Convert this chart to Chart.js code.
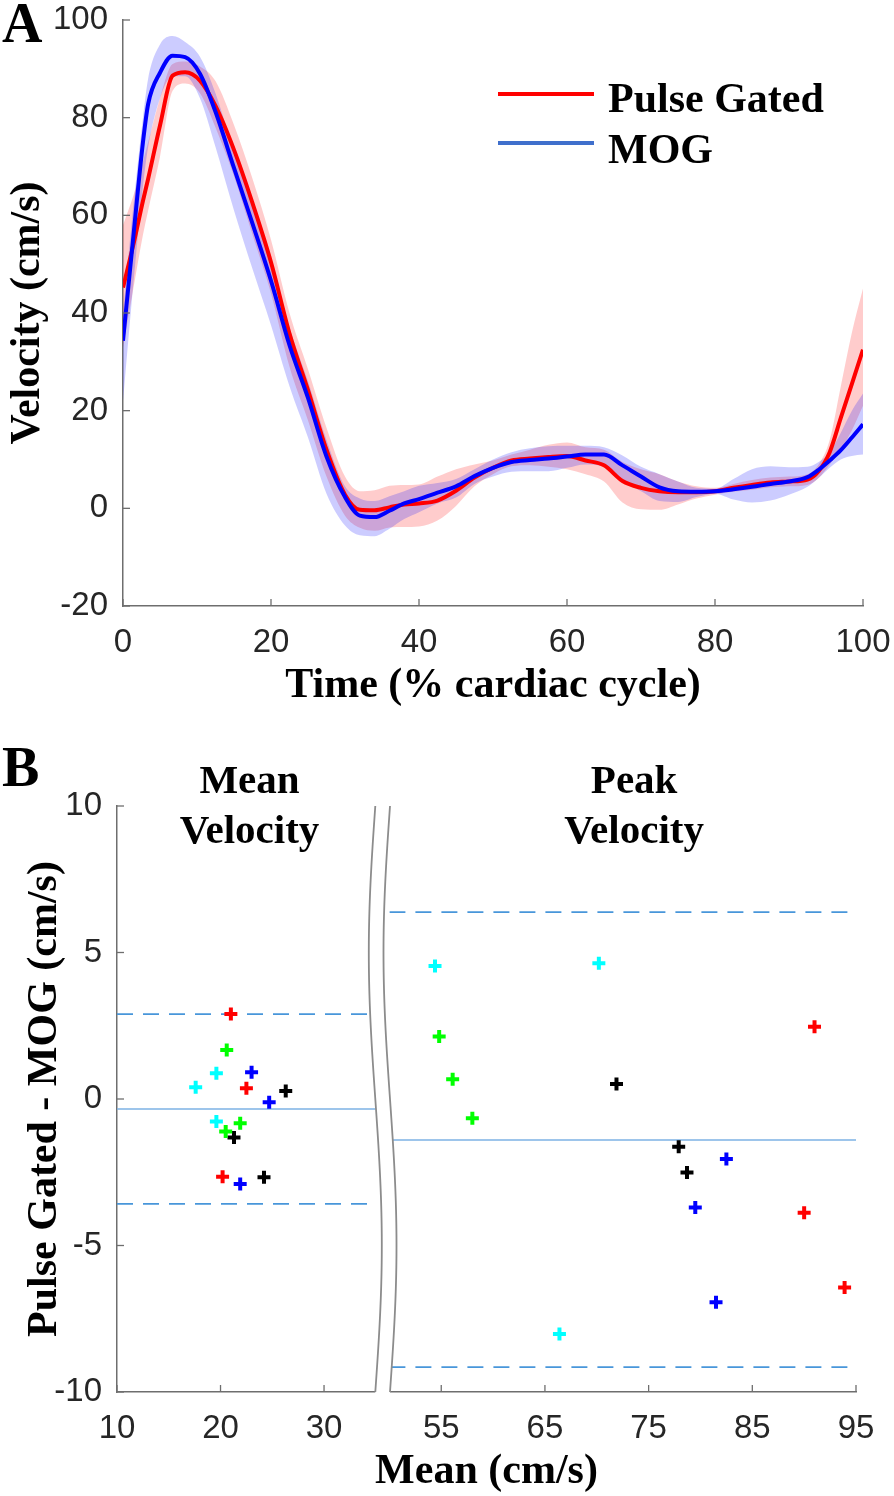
<!DOCTYPE html>
<html>
<head>
<meta charset="utf-8">
<title>Velocity waveforms and Bland-Altman comparison</title>
<script src="https://cdn.jsdelivr.net/npm/chart.js@4.4.1/dist/chart.umd.min.js"></script>
<style>
  html, body { margin:0; padding:0; background:#ffffff; }
  #page { position:relative; width:894px; height:1496px; overflow:hidden; background:#fff; }
  canvas { position:absolute; left:0; display:block; }
  #chartA { top:0; }
  #chartB { top:720px; }
</style>
</head>
<body>
<div id="page">
  <canvas id="chartA" width="894" height="720"></canvas>
  <canvas id="chartB" width="894" height="776"></canvas>
</div>
<script>
// ---------------- Panel A data ----------------
const timePct = [0, 1.4, 2.7, 3.4, 5, 6.7, 8.4, 10.4, 12.5, 15, 17.5, 20, 22.5, 25, 27.5, 30, 32, 34, 36, 38, 40, 42.5, 45, 47.5, 50, 52.5, 55, 57.5, 60, 62.5, 65, 67.5, 70, 72.5, 75, 77.5, 80, 82.5, 85, 87.5, 90, 92.5, 94, 95.5, 97, 98.5, 100];
const pulseGatedMean = [45.2, 54.0, 63.0, 67.5, 78.4, 88.6, 89.3, 87.6, 82.4, 73.4, 62.5, 50.4, 35.8, 24.2, 12.0, 2.8, -0.3, -0.4, 0.2, 0.8, 1.0, 1.6, 3.6, 6.3, 8.3, 9.8, 10.2, 10.5, 10.7, 9.8, 8.8, 5.6, 4.2, 3.5, 3.3, 3.3, 3.5, 4.2, 4.8, 5.3, 5.5, 5.9, 7.6, 11.5, 18.5, 25.5, 32.5];
const pulseGatedUpper = [58, 64, 71, 75, 84, 91, 91.5, 90.5, 87.5, 78.5, 67.5, 55, 40, 28.5, 16.5, 6.5, 3.5, 3.7, 4.6, 4.8, 4.9, 6.5, 8, 9, 9.8, 11, 12, 13, 13.5, 12.5, 12, 9.5, 8, 7, 5.5, 4.5, 4.2, 5, 5.8, 6.3, 6.5, 7, 9, 14, 25, 36, 45];
const pulseGatedLower = [33, 45, 56, 61, 72, 85.5, 87, 85, 78, 68, 56, 44, 29, 18, 6.5, -1.5, -4, -4.6, -3.9, -3.8, -3.7, -2.5, 0.5, 4.5, 7, 8.6, 8.8, 8.5, 8, 7, 5.5, 1.2, -0.2, -0.3, 0.8, 2.0, 2.8, 3.4, 3.8, 4.3, 4.5, 4.8, 6.2, 9, 12, 16, 21];
const mogMean = [34.3, 55.7, 75.0, 82.8, 89.2, 92.7, 92.4, 89.0, 81.2, 69.7, 58.3, 46.6, 33.4, 22.6, 10.6, 2.3, -1.5, -1.8, -0.5, 1.0, 1.9, 3.2, 4.5, 6.6, 8.3, 9.5, 9.9, 10.2, 10.6, 11.0, 11.0, 8.8, 6.5, 4.3, 3.5, 3.4, 3.5, 3.9, 4.4, 5.0, 5.5, 6.4, 7.9, 9.8, 11.9, 14.5, 17.2];
const mogUpper = [40, 62, 80, 88, 95, 96.7, 95.5, 92.5, 85, 73, 62, 50, 37, 26, 14, 4.5, 2, 1.5, 2.5, 3.5, 4.6, 5.2, 6, 8, 10, 11.5, 12.3, 12.7, 12.8, 12.8, 12.5, 10.8, 8.5, 7, 5.5, 4.2, 4, 6, 8, 8.6, 8.4, 8.5, 9.5, 11.5, 15.5, 20, 23.5];
const mogLower = [22, 46, 66, 74, 84, 88.5, 88.5, 84, 74, 61, 49, 37.5, 25, 14.5, 3, -3.5, -5.5, -5.7, -4.2, -2.2, -0.8, 1, 2.2, 5, 6.5, 7.5, 7.6, 7.6, 8.3, 9, 8.5, 5.7, 3.5, 1.5, 1.3, 2.3, 3, 1.8, 1.2, 1.6, 2.8, 4.4, 6.2, 8.3, 10, 10.7, 11];
const timeTicks = [0, 20, 40, 60, 80, 100];
const velocityTicks = [-20, 0, 20, 40, 60, 80, 100];
const seriesNames = ['Pulse Gated', 'MOG'];

// ---------------- Panel B data ----------------
const subjects = ['Subject 1', 'Subject 2', 'Subject 3', 'Subject 4', 'Subject 5'];
const meanVelAvg     = [21.0, 22.5, 20.2, 20.6, 21.9, 20.5, 19.6, 17.6, 19.6, 23.0, 24.7, 21.9, 26.3, 21.3, 24.2];
const meanVelDiff    = [2.90, 0.37, -2.65, 1.67, -0.83, -1.11, 0.88, 0.40, -0.77, 0.91, -0.11, -2.90, 0.27, -1.31, -2.67];
const meanVelSubject = [0, 0, 0, 1, 1, 1, 2, 2, 2, 3, 3, 3, 4, 4, 4];
const meanVelBias = -0.34;
const meanVelLoA  = [2.90, -3.58];
const peakVelAvg     = [91.0, 90.0, 93.9, 54.8, 56.1, 58.0, 54.4, 70.2, 66.4, 82.5, 79.5, 81.5, 71.9, 77.9, 78.7];
const peakVelDiff    = [2.47, -3.88, -6.43, 2.13, 0.67, -0.66, 4.54, 4.63, -8.02, -2.05, -3.70, -6.94, 0.51, -1.63, -2.51];
const peakVelSubject = [0, 0, 0, 1, 1, 1, 2, 2, 2, 3, 3, 3, 4, 4, 4];
const peakVelBias = -1.40;
const peakVelLoA  = [6.38, -9.15];
const meanAxisRange = [10, 35];
const peakAxisRange = [50, 95];
const meanAxisTicks = [10, 20, 30];
const peakAxisTicks = [55, 65, 75, 85, 95];
const diffTicks = [-10, -5, 0, 5, 10];

// ---------------- styling ----------------
const SANS = "'Liberation Sans', Arial, Helvetica, sans-serif";
const SERIF = "'Liberation Serif', 'Times New Roman', Times, serif";
const AX_COLOR = 'rgb(110,110,110)';
const TICK_COLOR = '#262626';
const TICK_FONT = { family: SANS, size: 33, lineHeight: 1.2 };
const TITLE_FONT = { family: SERIF, size: 42, weight: 'bold', lineHeight: 1.2 };
const subjectColors = ['#ff0000', '#00ff00', '#00ffff', '#0000ff', '#000000'];
const BIAS_COLOR = 'rgb(125,178,228)';
const LOA_COLOR = 'rgb(72,150,218)';

const pts = (xs, ys) => xs.map((x, i) => ({ x: x, y: ys[i] }));
const fixedTicks = arr => (s => { s.ticks = arr.map(v => ({ value: v })); });
const NO_GRID = { display: false, drawTicks: false };

// inward MATLAB-style tick marks
const inwardTicks = {
  id: 'inwardTicks',
  afterDraw(chart, args, o) {
    const ctx = chart.ctx;
    ctx.save();
    ctx.strokeStyle = o.color; ctx.lineWidth = o.width;
    Object.values(chart.scales).forEach(s => {
      if (s.options.display === false) return;
      s.ticks.forEach(t => {
        const p = s.getPixelForValue(t.value);
        ctx.beginPath();
        if (s.isHorizontal()) { ctx.moveTo(p, s.top); ctx.lineTo(p, s.top - o.length); }
        else { ctx.moveTo(s.right, p); ctx.lineTo(s.right + o.length, p); }
        ctx.stroke();
      });
    });
    ctx.restore();
  }
};

// Panel A: panel letter + legend
const panelALabels = {
  id: 'panelALabels',
  afterDraw(chart, args, o) {
    const ctx = chart.ctx;
    ctx.save();
    ctx.fillStyle = '#000';
    ctx.textAlign = 'left'; ctx.textBaseline = 'alphabetic';
    ctx.font = 'bold 56px ' + SERIF;
    ctx.fillText(o.letter, 2, 42);
    ctx.font = 'bold 42px ' + SERIF;
    o.items.forEach(it => {
      ctx.strokeStyle = it.color; ctx.lineWidth = 4;
      ctx.beginPath(); ctx.moveTo(498, it.lineY); ctx.lineTo(594, it.lineY); ctx.stroke();
      ctx.fillText(it.text, 608, it.textY);
    });
    ctx.restore();
  }
};

new Chart(document.getElementById('chartA'), {
  type: 'line',
  data: {
    datasets: [
      { label: seriesNames[0] + ' upper', data: pts(timePct, pulseGatedUpper), borderColor: 'rgba(0,0,0,0)', borderWidth: 0, pointRadius: 0, fill: false, order: 5 },
      { label: seriesNames[0] + ' lower', data: pts(timePct, pulseGatedLower), borderColor: 'rgba(0,0,0,0)', borderWidth: 0, pointRadius: 0, fill: '-1', backgroundColor: 'rgba(255,0,0,0.2)', order: 4 },
      { label: seriesNames[1] + ' upper', data: pts(timePct, mogUpper), borderColor: 'rgba(0,0,0,0)', borderWidth: 0, pointRadius: 0, fill: false, order: 3 },
      { label: seriesNames[1] + ' lower', data: pts(timePct, mogLower), borderColor: 'rgba(0,0,0,0)', borderWidth: 0, pointRadius: 0, fill: '-1', backgroundColor: 'rgba(0,0,255,0.2)', order: 2 },
      { label: seriesNames[0], data: pts(timePct, pulseGatedMean), borderColor: '#ff0000', borderWidth: 4, pointRadius: 0, fill: false, order: 1 },
      { label: seriesNames[1], data: pts(timePct, mogMean), borderColor: '#0000ff', borderWidth: 4, pointRadius: 0, fill: false, order: 0 }
    ]
  },
  options: {
    responsive: false, animation: false, devicePixelRatio: 1,
    layout: { padding: { top: 20, right: 31, bottom: 0, left: 0 } },
    elements: { line: { cubicInterpolationMode: 'monotone', borderJoinStyle: 'round' } },
    plugins: {
      legend: { display: false }, tooltip: { enabled: false },
      inwardTicks: { color: AX_COLOR, width: 1.3, length: 7 },
      panelALabels: { letter: 'A', items: [
        { text: seriesNames[0], color: '#ff0000', lineY: 94, textY: 112 },
        { text: seriesNames[1], color: '#3f6fcc', lineY: 143, textY: 163 }
      ] }
    },
    scales: {
      x: {
        type: 'linear', min: 0, max: 100,
        afterBuildTicks: fixedTicks(timeTicks),
        afterFit: s => { s.height = 114; s.paddingLeft = 0; s.paddingRight = 0; },
        grid: NO_GRID,
        border: { display: true, color: AX_COLOR, width: 1.5 },
        ticks: { font: TICK_FONT, color: TICK_COLOR, padding: 17, maxRotation: 0, autoSkip: false },
        title: { display: true, text: 'Time (% cardiac cycle)', font: TITLE_FONT, color: '#000', padding: { top: 0, bottom: 9 } }
      },
      y: {
        type: 'linear', min: -20, max: 100,
        afterBuildTicks: fixedTicks(velocityTicks),
        afterFit: s => { s.width = 123; s.paddingTop = 0; s.paddingBottom = 0; },
        grid: NO_GRID,
        border: { display: true, color: AX_COLOR, width: 1.5 },
        ticks: { font: TICK_FONT, color: TICK_COLOR, padding: 15, autoSkip: false },
        title: { display: true, text: 'Velocity (cm/s)', font: TITLE_FONT, color: '#000', padding: { top: 3, bottom: 0 } }
      }
    }
  },
  plugins: [inwardTicks, panelALabels]
});

// ---------------- Panel B ----------------
const axisBreak = {
  id: 'axisBreak',
  afterDraw(chart, args, o) {
    const ctx = chart.ctx, ca = chart.chartArea;
    const xl = chart.scales.x1.right - 0.5, xr = chart.scales.x2.left + 0.6;
    const top = ca.top, bot = ca.bottom;
    const f = y => -o.amplitude * Math.sin(2 * Math.PI * (y - top) / (bot - top));
    ctx.save();
    ctx.beginPath();
    for (let y = top - 1; y <= bot + 2; y += 2) ctx.lineTo(xl + f(y), y);
    for (let y = bot + 2; y >= top - 1; y -= 2) ctx.lineTo(xr + f(y), y);
    ctx.closePath(); ctx.fillStyle = '#ffffff'; ctx.fill();
    ctx.strokeStyle = o.color; ctx.lineWidth = o.width;
    [xl, xr].forEach(x0 => {
      ctx.beginPath();
      for (let y = top; y <= bot; y += 2) ctx.lineTo(x0 + f(y), y);
      ctx.stroke();
    });
    ctx.restore();
  }
};

const panelBLabels = {
  id: 'panelBLabels',
  afterDraw(chart, args, o) {
    const ctx = chart.ctx, ca = chart.chartArea;
    ctx.save();
    ctx.fillStyle = '#000'; ctx.textBaseline = 'alphabetic';
    ctx.textAlign = 'left';
    ctx.font = 'bold 56px ' + SERIF;
    ctx.fillText(o.letter, 2, 66);
    ctx.textAlign = 'center';
    ctx.font = 'bold 41px ' + SERIF;
    o.titles.forEach(t => {
      const x = chart.scales[t.axis].getPixelForValue(t.at);
      t.lines.forEach((line, i) => ctx.fillText(line, x, 73 + i * 50));
    });
    ctx.font = 'bold 42px ' + SERIF;
    ctx.fillText(o.xTitle, (ca.left + ca.right) / 2, 763);
    ctx.restore();
  }
};

const bDatasets = [];
subjects.forEach((name, k) => {
  const mi = meanVelSubject.map((s, i) => s === k ? i : -1).filter(i => i >= 0);
  const pi = peakVelSubject.map((s, i) => s === k ? i : -1).filter(i => i >= 0);
  const common = { pointStyle: 'cross', pointRadius: 6.5, pointHoverRadius: 6.5, pointBorderWidth: 4,
                   pointBorderColor: subjectColors[k], pointBackgroundColor: subjectColors[k],
                   borderColor: subjectColors[k], showLine: false, order: 0 };
  bDatasets.push(Object.assign({ label: name + ' – mean velocity', xAxisID: 'x1', yAxisID: 'y',
    data: mi.map(i => ({ x: meanVelAvg[i], y: meanVelDiff[i] })) }, common));
  bDatasets.push(Object.assign({ label: name + ' – peak velocity', xAxisID: 'x2', yAxisID: 'y',
    data: pi.map(i => ({ x: peakVelAvg[i], y: peakVelDiff[i] })) }, common));
});
const refLine = (label, axis, range, y, dashed) => ({
  label: label, xAxisID: axis, yAxisID: 'y', showLine: true, pointRadius: 0, pointHoverRadius: 0,
  data: [{ x: range[0], y: y }, { x: range[1], y: y }],
  borderColor: dashed ? LOA_COLOR : BIAS_COLOR, borderWidth: dashed ? 1.7 : 1.5,
  borderDash: dashed ? [16, 10] : [], order: 1
});
bDatasets.push(refLine('Mean velocity bias', 'x1', meanAxisRange, meanVelBias, false));
bDatasets.push(refLine('Mean velocity upper LoA', 'x1', meanAxisRange, meanVelLoA[0], true));
bDatasets.push(refLine('Mean velocity lower LoA', 'x1', meanAxisRange, meanVelLoA[1], true));
bDatasets.push(refLine('Peak velocity bias', 'x2', peakAxisRange, peakVelBias, false));
bDatasets.push(refLine('Peak velocity upper LoA', 'x2', peakAxisRange, peakVelLoA[0], true));
bDatasets.push(refLine('Peak velocity lower LoA', 'x2', peakAxisRange, peakVelLoA[1], true));

const bottomAxis = (range, ticks, weight, order) => ({
  type: 'linear', position: 'bottom', min: range[0], max: range[1],
  stack: 'mean', stackWeight: weight, weight: order,
  afterBuildTicks: fixedTicks(ticks),
  afterFit: s => { s.height = 104; },
  grid: NO_GRID,
  border: { display: true, color: AX_COLOR, width: 1.5 },
  ticks: { font: TICK_FONT, color: TICK_COLOR, padding: 17, maxRotation: 0, minRotation: 0, autoSkip: false }
});

new Chart(document.getElementById('chartB'), {
  type: 'scatter',
  data: { datasets: bDatasets },
  options: {
    responsive: false, animation: false, devicePixelRatio: 1,
    layout: { padding: { top: 86, right: 38, bottom: 0, left: 0 } },
    plugins: {
      legend: { display: false }, tooltip: { enabled: false },
      inwardTicks: { color: AX_COLOR, width: 1.3, length: 7 },
      axisBreak: { amplitude: 6.5, color: 'rgb(140,140,140)', width: 1.8 },
      panelBLabels: {
        letter: 'B', xTitle: 'Mean (cm/s)',
        titles: [
          { axis: 'x1', at: 22.8, lines: ['Mean', 'Velocity'] },
          { axis: 'x2', at: 73.6, lines: ['Peak', 'Velocity'] }
        ]
      }
    },
    scales: {
      x1: bottomAxis(meanAxisRange, meanAxisTicks, 258.8, 0),
      xgap: { type: 'linear', position: 'bottom', display: false, min: 0, max: 1, stack: 'mean', stackWeight: 13.6, weight: 1 },
      x2: bottomAxis(peakAxisRange, peakAxisTicks, 466.6, 2),
      y: {
        type: 'linear', position: 'left', min: -10, max: 10,
        afterBuildTicks: fixedTicks(diffTicks),
        afterFit: s => { s.width = 117; },
        grid: NO_GRID,
        border: { display: true, color: AX_COLOR, width: 1.5 },
        ticks: { font: TICK_FONT, color: TICK_COLOR, padding: 15, autoSkip: false },
        title: { display: true, text: 'Pulse Gated - MOG (cm/s)', font: TITLE_FONT, color: '#000', padding: { top: 20, bottom: 0 } }
      }
    }
  },
  plugins: [inwardTicks, axisBreak, panelBLabels]
});
</script>
</body>
</html>
